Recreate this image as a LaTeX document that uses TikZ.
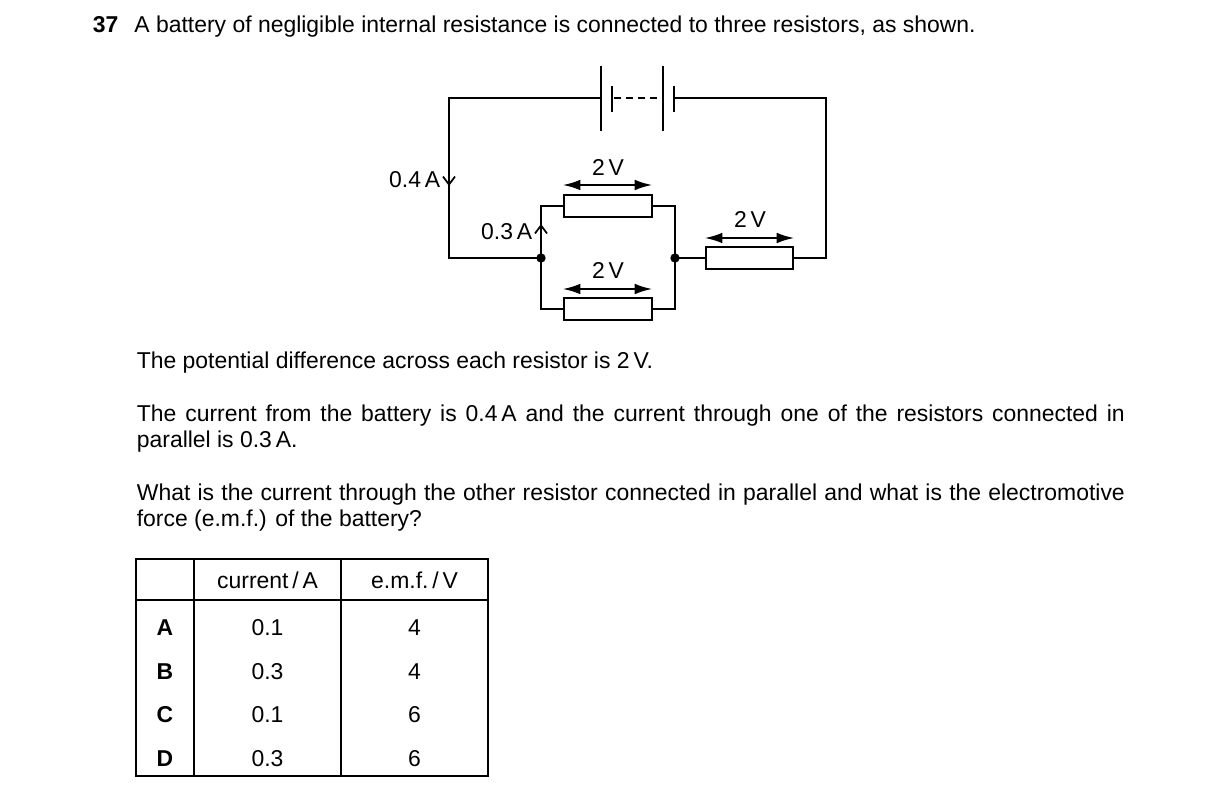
\documentclass[tikz,border=0pt]{standalone}
\usepackage{fontspec}
\setmainfont{Liberation Sans}
\usetikzlibrary{arrows.meta}
\begin{document}
\begin{tikzpicture}[x=0.75pt,y=-0.75pt,line width=1.3pt,
  wire/.style={line width=1.3pt},
  res/.style={draw,line width=1.3pt},
  vol/.style={{Latex[length=13pt,width=8pt]}-{Latex[length=13pt,width=8pt]},line width=1.3pt},
  cur/.style={-{Straight Barb[length=6pt,width=9pt]},line width=1.3pt},
  txt/.style={font=\fontsize{17.2}{20}\selectfont,inner sep=0pt},
  lab/.style={font=\fontsize{17.2}{20}\selectfont,inner sep=0pt},
  dot/.style={circle,fill,inner sep=0pt,minimum size=7pt}]
\useasboundingbox (0,0) rectangle (1216,802);
\fill[white] (0,0) rectangle (1216,802);
% text
\node[txt,anchor=base west] (q) at (92,33) {\textbf{37}\hspace{12pt}A battery of negligible internal resistance is connected to three resistors, as shown.};
\node[txt,anchor=base west] (t1) at (136,368) {The potential difference across each resistor is 2\,V.};
\node[txt,anchor=base west] (t2) at (136,421) {\makebox[741pt][s]{The current from the battery is 0.4\,A and the current through one of the resistors connected in}};
\node[txt,anchor=base west] (t3) at (136,447) {parallel is 0.3\,A.};
\node[txt,anchor=base west] (t4) at (136,500) {\makebox[741pt][s]{What is the current through the other resistor connected in parallel and what is the electromotive}};
\node[txt,anchor=base west] (t5) at (136,526) {force (e.m.f.) of the battery?};
% coordinates
\coordinate (TL) at (449,98);
\coordinate (TR) at (826,98);
\coordinate (BL) at (449,258);
\coordinate (BR) at (826,258);
\coordinate (b1) at (601,98);
\coordinate (b2) at (674,98);
\node[dot] (J1) at (541,258) {};
\node[dot] (J2) at (675,258) {};
\node[res,minimum width=66pt,minimum height=16.5pt,inner sep=0pt] (R1) at (608,206) {};
\node[res,minimum width=66pt,minimum height=16.5pt,inner sep=0pt] (R2) at (608,309) {};
\node[res,minimum width=65pt,minimum height=16.5pt,inner sep=0pt] (R3) at (749.5,258) {};
% wires
\draw[wire] (b1) -- (TL) -- (BL) -- (J1.center);
\draw[wire] (b2) -- (TR) -- (BR) -- (R3.east);
\draw[wire] (J2.center) -- (R3.west);
\draw[wire] (J1.center) |- (R1.west);
\draw[wire] (J1.center) |- (R2.west);
\draw[wire] (J2.center) |- (R1.east);
\draw[wire] (J2.center) |- (R2.east);
% battery
\draw[wire] (601,66) -- (601,131);
\draw[wire] (612,86) -- (612,112);
\draw[wire,dash pattern=on 5pt off 4pt] (614,98) -- (662,98);
\draw[wire] (663,66) -- (663,131);
\draw[wire] (674,86) -- (674,112);
% voltage arrows
\coordinate (v1a) at (563,185); \coordinate (v1b) at (652,185);
\coordinate (v2a) at (563,289); \coordinate (v2b) at (652,289);
\coordinate (v3a) at (705,238); \coordinate (v3b) at (794,238);
\draw[vol] (v1a) -- (v1b);
\draw[vol] (v2a) -- (v2b);
\draw[vol] (v3a) -- (v3b);
\node[lab] (l1) at (608,167) {2\,V};
\node[lab] (l2) at (608,270) {2\,V};
\node[lab] (l3) at (750,219) {2\,V};
% current arrows
\coordinate (c1a) at (449,170); \coordinate (c1b) at (449,186);
\draw[cur] (c1a) -- (c1b);
\coordinate (c2a) at (541,240); \coordinate (c2b) at (541,224);
\draw[cur] (c2a) -- (c2b);
\node[lab,anchor=east] (l4) at (441,180) {0.4\,A};
\node[lab,anchor=east] (l5) at (533,232) {0.3\,A};
% table
\draw[line width=1pt] (136,559) rectangle (488,776);
\draw[line width=1pt] (194,559) -- (194,776);
\draw[line width=1pt] (341,559) -- (341,776);
\draw[line width=1pt] (136,600) -- (488,600);
\node[txt] (h1) at (267.5,580) {current\,/\,A};
\node[txt] (h2) at (414.5,580) {e.m.f.\,/\,V};
\foreach \l/\c/\e/\y in {A/0.1/4/628,B/0.3/4/672,C/0.1/6/715,D/0.3/6/759}{
  \node[txt] (r\l) at (165,\y) {\textbf{\l}};
  \node[txt] (c\l) at (267.5,\y) {\c};
  \node[txt] (e\l) at (414.5,\y) {\e};
}
\end{tikzpicture}
\end{document}
